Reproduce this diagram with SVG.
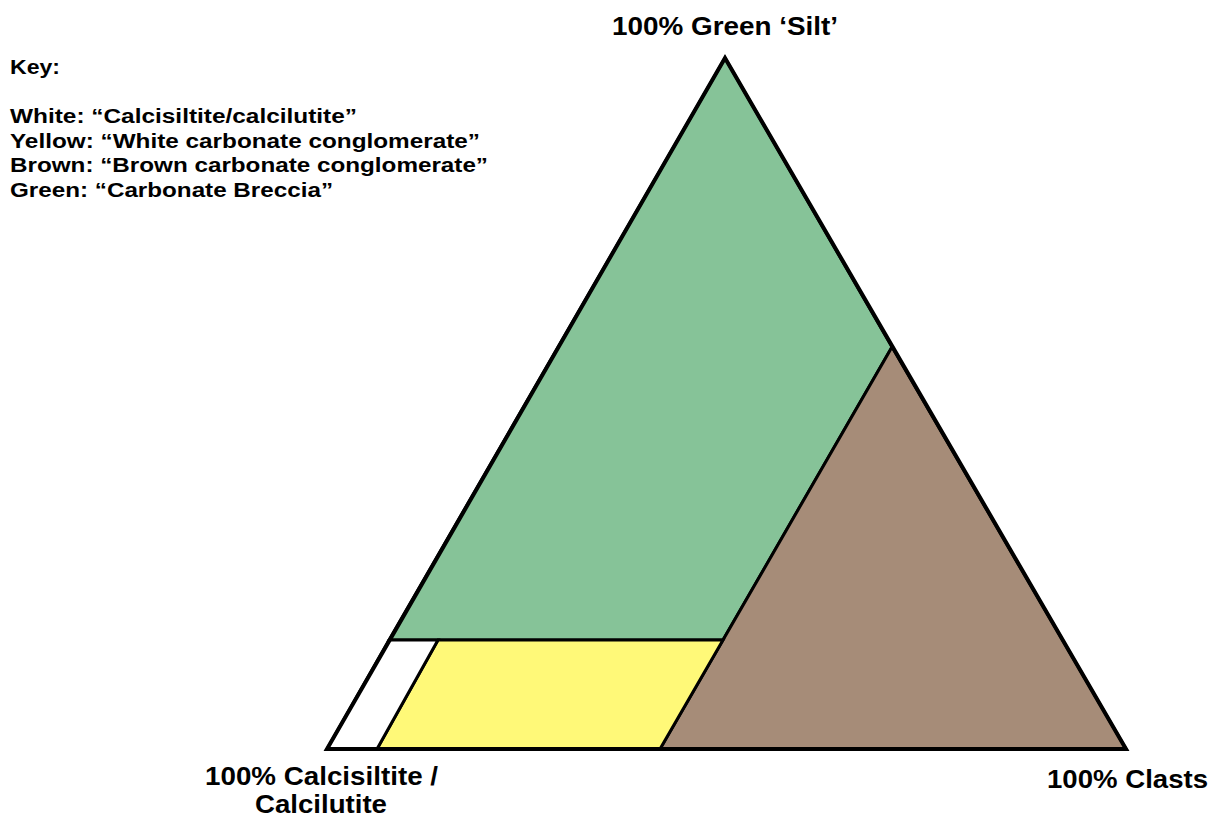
<svg xmlns="http://www.w3.org/2000/svg" width="1226" height="821" viewBox="0 0 1226 821">
<style>
.t{font-family:"Liberation Sans",Arial,sans-serif;font-weight:bold;fill:#000}
.k{font-size:20px}
.lab{font-size:26px}
.lab2{font-size:25px}
.reg{stroke:#000;stroke-width:3;stroke-linejoin:miter}
</style>
<rect width="1226" height="821" fill="#fff"/>
<g id="key" xml:space="preserve">
<text class="t k" x="10" y="74" textLength="50" lengthAdjust="spacingAndGlyphs">Key:</text>
<text class="t k" x="10" y="123" textLength="347" lengthAdjust="spacingAndGlyphs">White:  “Calcisiltite/calcilutite”</text>
<text class="t k" x="10" y="148" textLength="470" lengthAdjust="spacingAndGlyphs">Yellow:  “White carbonate conglomerate”</text>
<text class="t k" x="10" y="172" textLength="478" lengthAdjust="spacingAndGlyphs">Brown:  “Brown carbonate conglomerate”</text>
<text class="t k" x="10" y="197" textLength="323" lengthAdjust="spacingAndGlyphs">Green:  “Carbonate Breccia”</text>
</g>
<g id="green">
<polygon class="reg" fill="#86C398" points="725,58 389,640 723,640 892,347"/>
</g>
<g id="brown">
<polygon class="reg" fill="#A68C78" points="892,347 1126,749 660,749 723,640"/>
</g>
<g id="yellow">
<polygon class="reg" fill="#FFF978" points="438,640 723,640 660,749 377,749"/>
</g>
<g id="white">
<polygon class="reg" fill="#fff" points="389,640 438,640 377,749 327,749"/>
</g>
<g id="triangle">
<polygon fill="none" stroke="#000" stroke-width="4" stroke-linejoin="miter" points="725,58 1126,749 327,749"/>
</g>
<g id="labels">
<text class="t lab" x="612" y="35" textLength="226" lengthAdjust="spacingAndGlyphs">100% Green ‘Silt’</text>
<text class="t lab2" x="205" y="785" textLength="233" lengthAdjust="spacingAndGlyphs">100% Calcisiltite /</text>
<text class="t lab2" x="255" y="813" textLength="132" lengthAdjust="spacingAndGlyphs">Calcilutite</text>
<text class="t lab" x="1047" y="788" textLength="161" lengthAdjust="spacingAndGlyphs">100% Clasts</text>
</g>
</svg>
